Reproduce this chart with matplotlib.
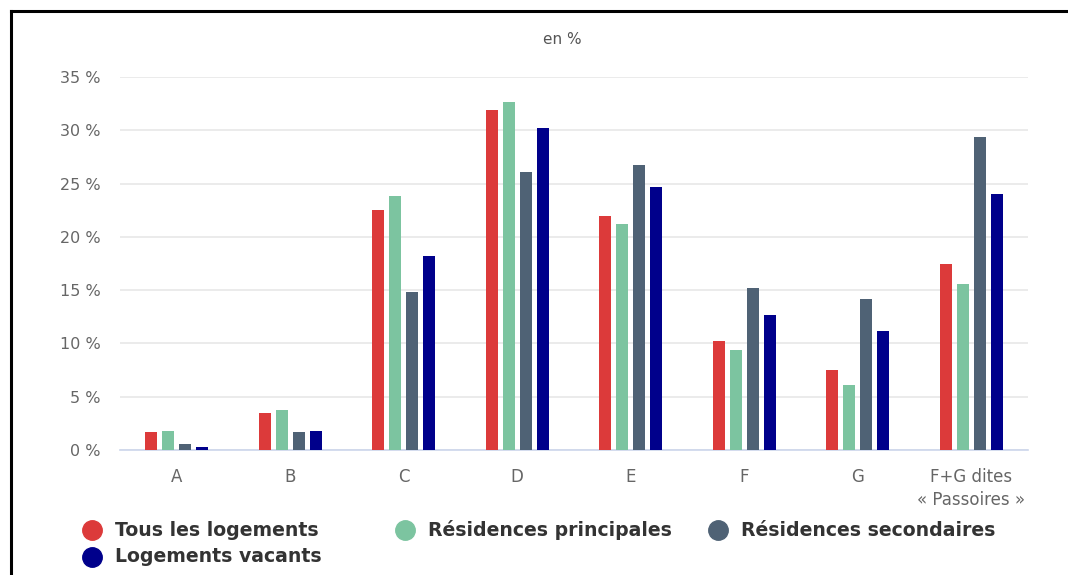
import numpy as np
import matplotlib.pyplot as plt
from matplotlib.lines import Line2D

categories = ["A", "B", "C", "D", "E", "F", "G", "F+G dites\n« Passoires »"]

tous = [1.7, 3.5, 22.5, 31.9, 22.0, 10.2, 7.5, 17.5]
principales = [1.8, 3.8, 23.8, 32.7, 21.2, 9.4, 6.1, 15.6]
secondaires = [0.6, 1.7, 14.8, 26.1, 26.7, 15.2, 14.2, 29.4]
vacants = [0.3, 1.8, 18.2, 30.2, 24.7, 12.7, 11.2, 24.0]

series_names = ["Tous les logements", "Résidences principales",
                "Résidences secondaires", "Logements vacants"]
series_values = [tous, principales, secondaires, vacants]
colors = ["#dc3a3a", "#7cc4a0", "#4f6275", "#00008b"]

yticks = [0, 5, 10, 15, 20, 25, 30, 35]

W, H = 1068, 575
fig = plt.figure(figsize=(W / 100, H / 100), dpi=100)
ax = fig.add_axes([120 / W, 1 - 450 / H, 908 / W, 373 / H])

x = np.arange(len(categories))
pitch = 0.15
width = 0.105
for i, (vals, col) in enumerate(zip(series_values, colors)):
    ax.bar(x + (i - 1.5) * pitch, vals, width=width, color=col, zorder=3)

ax.set_xlim(-0.5, len(categories) - 0.5)
ax.set_ylim(0, 35)
ax.set_yticks(yticks)
ax.set_yticklabels([f"{t} %" for t in yticks])
ax.set_xticks(x)
ax.set_xticklabels(categories, linespacing=1.35)
ax.tick_params(axis="both", length=0, labelcolor="#666666")
ax.tick_params(axis="x", pad=13, labelsize=12)
ax.tick_params(axis="y", pad=14, labelsize=11.5)
for lab in ax.get_yticklabels():
    lab.set_horizontalalignment("right")

ax.grid(axis="y", color="#e8e8e8", linewidth=1.2, zorder=0)
for s in ["top", "right", "left"]:
    ax.spines[s].set_visible(False)
ax.spines["bottom"].set_color("#ccd6eb")
ax.spines["bottom"].set_linewidth(1.2)

fig.text(562 / W, 1 - 40 / H, "en %", ha="center", va="center",
         fontsize=11, color="#555555")

# legend, drawn by hand (3 columns, row-wise)
leg_pos = [(92, 530), (405, 530), (718, 530), (92, 557)]
for (px, py), name, col in zip(leg_pos, series_names, colors):
    fig.add_artist(Line2D([px / W], [1 - py / H], marker="o", markersize=14,
                          color=col, linestyle="none", transform=fig.transFigure))
    fig.text((px + 23) / W, 1 - py / H, name, ha="left", va="center",
             fontsize=13.6, fontweight="bold", color="#333333")

# frame on left and top
fig.add_artist(Line2D([11 / W, 11 / W], [0, 1 - 11 / H], color="black",
                      linewidth=2.2, transform=fig.transFigure))
fig.add_artist(Line2D([11 / W, 1], [1 - 11 / H, 1 - 11 / H], color="black",
                      linewidth=2.2, transform=fig.transFigure))

plt.savefig("out.png", dpi=100)
